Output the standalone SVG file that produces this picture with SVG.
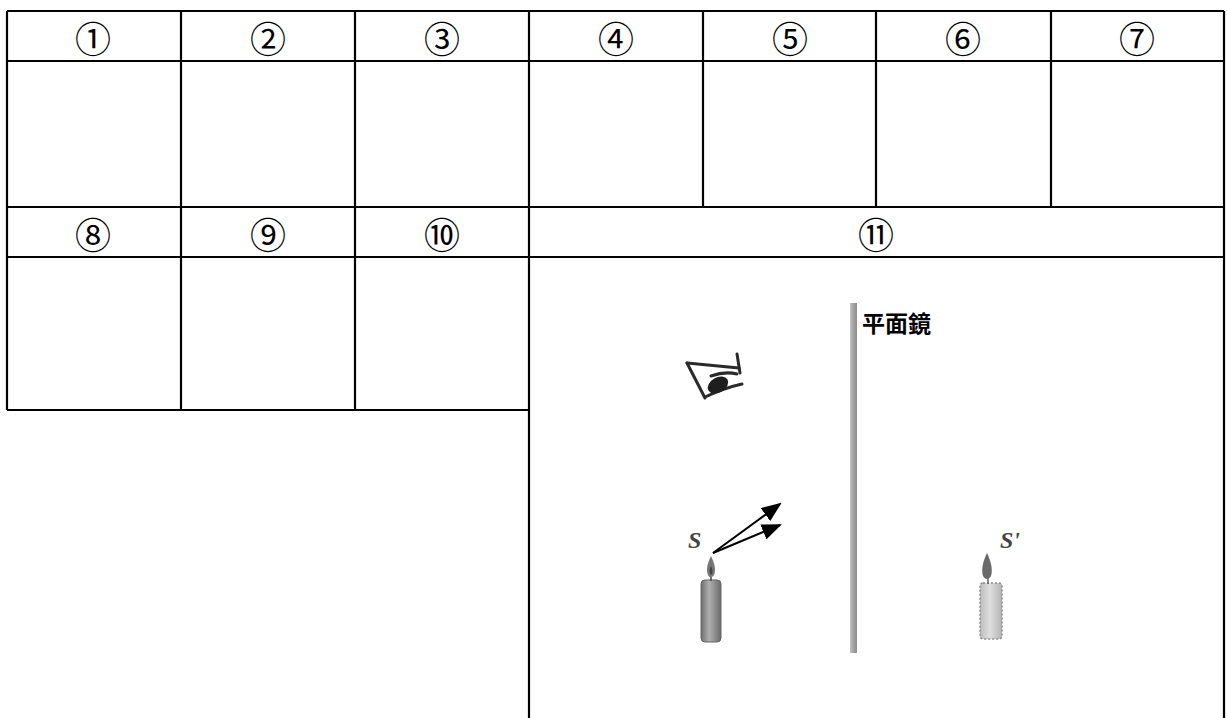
<svg xmlns="http://www.w3.org/2000/svg" width="1227" height="718" viewBox="0 0 1227 718">
<style>
.ln{stroke:#000;stroke-width:2.2;fill:none}
.num{font-family:"Noto Sans CJK SC","DejaVu Sans",sans-serif;font-size:36px;fill:#000;text-anchor:middle;dominant-baseline:central}
.lbl{font-family:"Liberation Serif",serif;font-style:italic;font-weight:bold;font-size:24px;fill:#444}
.eye{stroke:#2a2a2a;stroke-width:3;fill:none;stroke-linecap:round}
.ray{stroke:#000;stroke-width:2;fill:none}
</style>
<defs>
<linearGradient id="mirrorG" x1="0" x2="1" y1="0" y2="0">
<stop offset="0" stop-color="#c4c4c4"/><stop offset="0.5" stop-color="#a2a2a2"/><stop offset="1" stop-color="#8e8e8e"/>
</linearGradient>
<linearGradient id="candleG" x1="0" x2="1" y1="0" y2="0">
<stop offset="0" stop-color="#6e6e6e"/><stop offset="0.4" stop-color="#b0b0b0"/><stop offset="1" stop-color="#6a6a6a"/>
</linearGradient>
<linearGradient id="imgG" x1="0" x2="1" y1="0" y2="0">
<stop offset="0" stop-color="#bdbdbd"/><stop offset="0.45" stop-color="#dedede"/><stop offset="1" stop-color="#b4b4b4"/>
</linearGradient>
<marker id="arr" markerUnits="userSpaceOnUse" markerWidth="20" markerHeight="16" refX="18" refY="8" orient="auto">
<path d="M0,0 L20,8 L0,16 Z" fill="#000"/>
</marker>
</defs>
<rect width="1227" height="718" fill="#fff"/>
<g id="table">
<path class="ln" d="M7,11H1224M7,61H1224M7,207H1224M7,257H1224M7,410H529"/>
<path class="ln" d="M7,11V410M181,11V410M355,11V410M529,11V718M703,11V207M876,11V207M1051,11V207M1224,11V718"/>
</g>
<g id="labels">
<text class="num" x="93" y="37">①</text>
<text class="num" x="268" y="37">②</text>
<text class="num" x="442" y="37">③</text>
<text class="num" x="616" y="37">④</text>
<text class="num" x="790" y="37">⑤</text>
<text class="num" x="963" y="37">⑥</text>
<text class="num" x="1137" y="37">⑦</text>
<text class="num" x="93" y="233">⑧</text>
<text class="num" x="268" y="233">⑨</text>
<text class="num" x="442" y="233">⑩</text>
<text class="num" x="876" y="233">⑪</text>
</g>
<g id="mirror">
<rect x="850" y="303" width="7" height="350" fill="url(#mirrorG)"/>
<text x="862" y="332" font-family="'Noto Sans CJK TC','Noto Sans CJK SC',sans-serif" font-weight="bold" font-size="23" fill="#000">平面鏡</text>
</g>
<g id="eye">
<path class="eye" d="M687,363 L739,368"/>
<path class="eye" d="M737,354 L740,373"/>
<path class="eye" d="M687,363 L705,398"/>
<path class="eye" d="M705,397 Q724,388 742,384"/>
<path class="eye" d="M711,376 Q725,371 737,374"/>
<ellipse cx="718" cy="385" rx="11" ry="7.5" transform="rotate(-30 718 385)" fill="#1e1e1e"/>
</g>
<g id="candle-S">
<rect x="701" y="580" width="20" height="62" rx="4" fill="url(#candleG)" stroke="#666" stroke-width="1"/>
<line x1="711" y1="575" x2="711" y2="581" stroke="#444" stroke-width="1.5"/>
<path d="M711,556 C715,564 716,570 714,575 C712,578 709,578 708,575 C706,570 707,564 711,556 Z" fill="#777"/>
<path d="M711,566 C713,570 713,573 711,575 C709,573 709,570 711,566 Z" fill="#444"/>
<text class="lbl" x="688" y="548">S</text>
</g>
<g id="candle-S-image">
<rect x="980" y="583" width="22" height="56" rx="3" fill="url(#imgG)" stroke="#8a8a8a" stroke-width="1.5" stroke-dasharray="2 2"/>
<line x1="988" y1="578" x2="988" y2="584" stroke="#666" stroke-width="1.5"/>
<path d="M987,553 C991,561 993,570 991,576 C989,580 985,580 983,576 C981,570 983,561 987,553 Z" fill="#6a6a6a"/>
<text class="lbl" x="1000" y="548">S'</text>
</g>
<g id="connectors">
<path class="ray" d="M713,553 L780,504" marker-end="url(#arr)"/>
<path class="ray" d="M713,553 L780,525" marker-end="url(#arr)"/>
</g>
</svg>
